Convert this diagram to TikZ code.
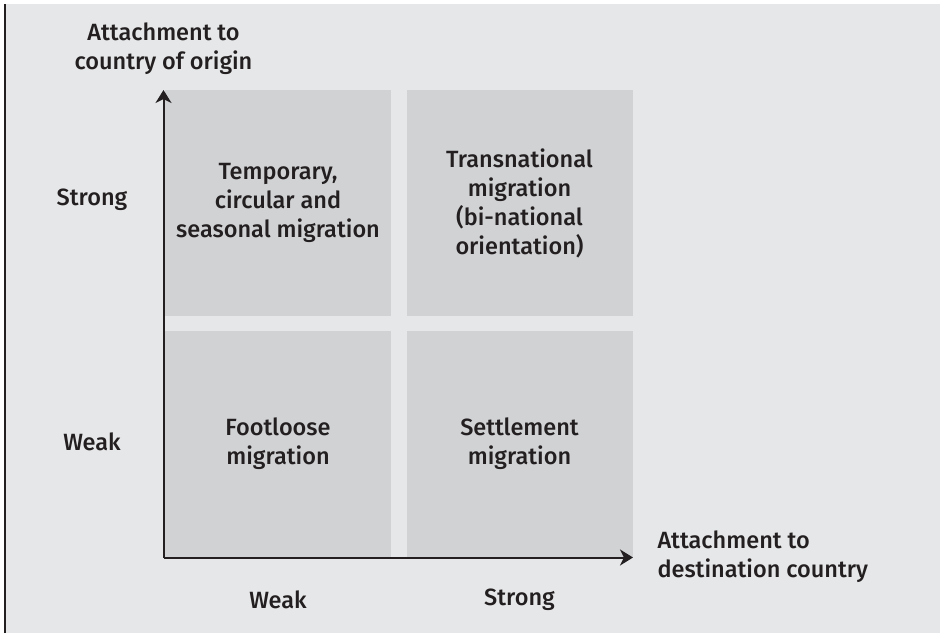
\documentclass[tikz,border=0pt]{standalone}
\usepackage{fontspec}
\setmainfont{Fira Sans}[BoldFont={Fira Sans Medium}]
\usetikzlibrary{arrows.meta}
\definecolor{bggrey}{HTML}{E6E7E8}
\definecolor{boxgrey}{HTML}{D1D2D4}
\definecolor{inkgrey}{HTML}{231F20}
\tikzset{
	quad/.style={fill=boxgrey, minimum width=226pt, minimum height=226pt, inner sep=0pt, align=center, font=\bfseries\fontsize{23.5}{29}\selectfont, text=inkgrey},
	lbl/.style={align=center, font=\bfseries\fontsize{23.5}{29}\selectfont, text=inkgrey},
	axis/.style={line width=2pt, draw=inkgrey, -{Stealth[length=13pt,width=16pt,inset=4pt]}}
}

\begin{document}
\begin{tikzpicture}[x=1pt,y=1pt]
			%%%%% START %%%%%
			\useasboundingbox (0,0) rectangle (941,633);
			\fill[bggrey] (5,0) rectangle (940,629);
			\draw[line width=1.8pt, inkgrey] (5,0) -- (5,629);
			
			\node[quad] (tl) at (278,430) {Temporary,\\circular and\\seasonal migration};
			\node[quad] (tr) at (519.5,430) {Transnational\\migration\\(bi-national\\orientation)};
			\node[quad] (bl) at (278,189) {Footloose\\migration};
			\node[quad] (br) at (519.5,189) {Settlement\\migration};
			
			\coordinate (o) at (163.5,75.5);
			\coordinate (ytip) at (163.5,543);
			\coordinate (xtip) at (633,75.5);
			\draw[axis] (o) -- (ytip);
			\draw[axis] (o) -- (xtip);
			
			\node[lbl] (ytitle) at (163.5,584) {Attachment to\\country of origin};
			\node[lbl, anchor=west, align=left] (xtitle) at (654,76) {Attachment to\\destination country};
			
			\node[lbl] (ystrong) at (92,433) {Strong};
			\node[lbl] (yweak) at (92,191) {Weak};
			\node[lbl] (xweak) at (278,33) {Weak};
			\node[lbl] (xstrong) at (519.5,33) {Strong};
			%%%%% END %%%%%
\end{tikzpicture}
\end{document}
